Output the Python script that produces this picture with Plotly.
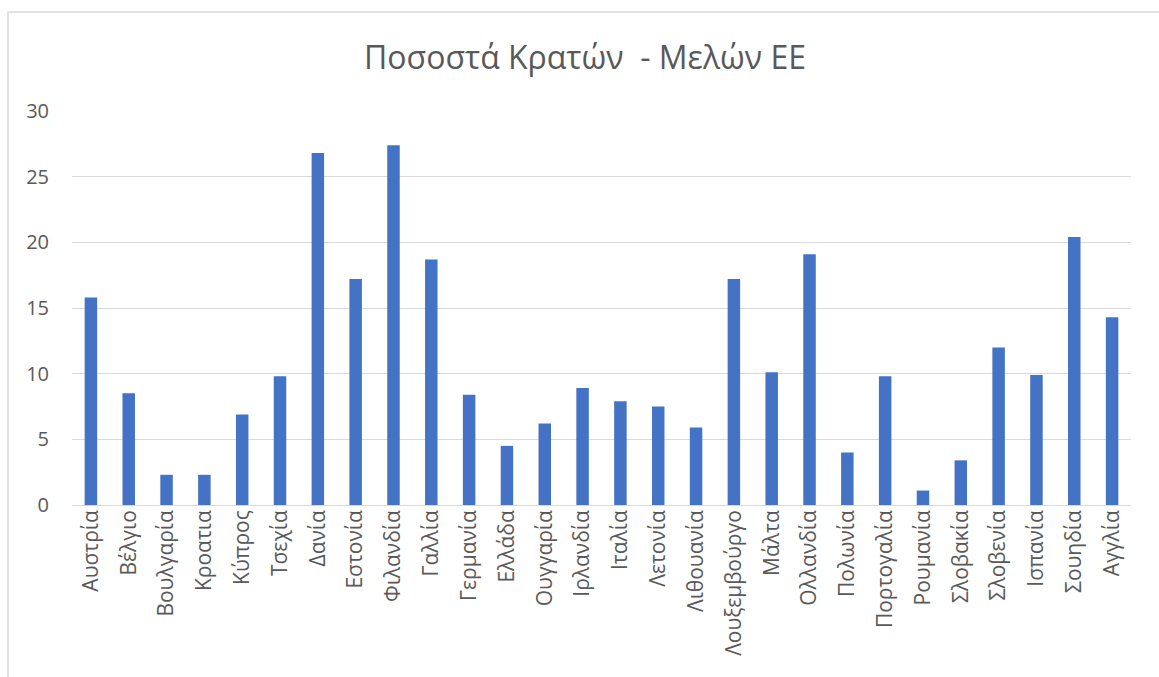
import plotly.graph_objects as go

countries = ["Αυστρία", "Βέλγιο", "Βουλγαρία", "Κροατια", "Κύπρος", "Τσεχία", "Δανία",
             "Εστονία", "Φιλανδία", "Γαλλία", "Γερμανία", "Ελλάδα", "Ουγγαρία", "Ιρλανδία",
             "Ιταλία", "Λετονία", "Λιθουανία", "Λουξεμβούργο", "Μάλτα", "Ολλανδία", "Πολωνία",
             "Πορτογαλία", "Ρουμανία", "Σλοβακία", "Σλοβενία", "Ισπανία", "Σουηδία", "Αγγλία"]
values = [15.8, 8.5, 2.3, 2.3, 6.9, 9.8, 26.8,
          17.2, 27.4, 18.7, 8.4, 4.5, 6.2, 8.9,
          7.9, 7.5, 5.9, 17.2, 10.1, 19.1, 4.0,
          9.8, 1.1, 3.4, 12.0, 9.9, 20.4, 14.3]
y_ticks = [0, 5, 10, 15, 20, 25, 30]
title_text = "Ποσοστά Κρατών  - Μελών ΕΕ"

FONT = "Open Sans"
W, H = 1159, 677
L, R, T, B = 72, 28, 111, 172

fig = go.Figure(go.Bar(x=countries, y=values, marker=dict(color="#4472C4", line=dict(width=0)),
                       width=0.33))

pw = W - L - R
ph = H - T - B
fig.update_layout(
    width=W, height=H,
    margin=dict(l=L, r=R, t=T, b=B, autoexpand=False),
    paper_bgcolor="white", plot_bgcolor="white",
    showlegend=False,
    title=dict(text=title_text, x=585 / W, xanchor="center", y=1 - 58 / H, yanchor="middle",
               font=dict(family=FONT, size=32, color="#595959")),
    xaxis=dict(tickangle=-90, tickfont=dict(family=FONT, size=21, color="#595959"),
               showgrid=False, showline=False, ticks="", zeroline=False),
    yaxis=dict(range=[0, 30], tickvals=y_ticks, tickfont=dict(family=FONT, size=20, color="#595959"),
               showgrid=True, gridcolor="#D9D9D9", gridwidth=1, zeroline=True, zerolinecolor="#D9D9D9",
               zerolinewidth=1, showline=False, ticks="", ticklabelstandoff=22),
    shapes=[dict(type="rect", xref="paper", yref="paper",
                 x0=(8 - L) / pw, x1=(W + 20 - L) / pw,
                 y0=-(H + 20 - T - ph) / ph, y1=(H - B - 12) / ph + 0,
                 line=dict(color="#D9D9D9", width=1.5), fillcolor="rgba(0,0,0,0)", layer="below")],
)
fig.write_html("out.html")
